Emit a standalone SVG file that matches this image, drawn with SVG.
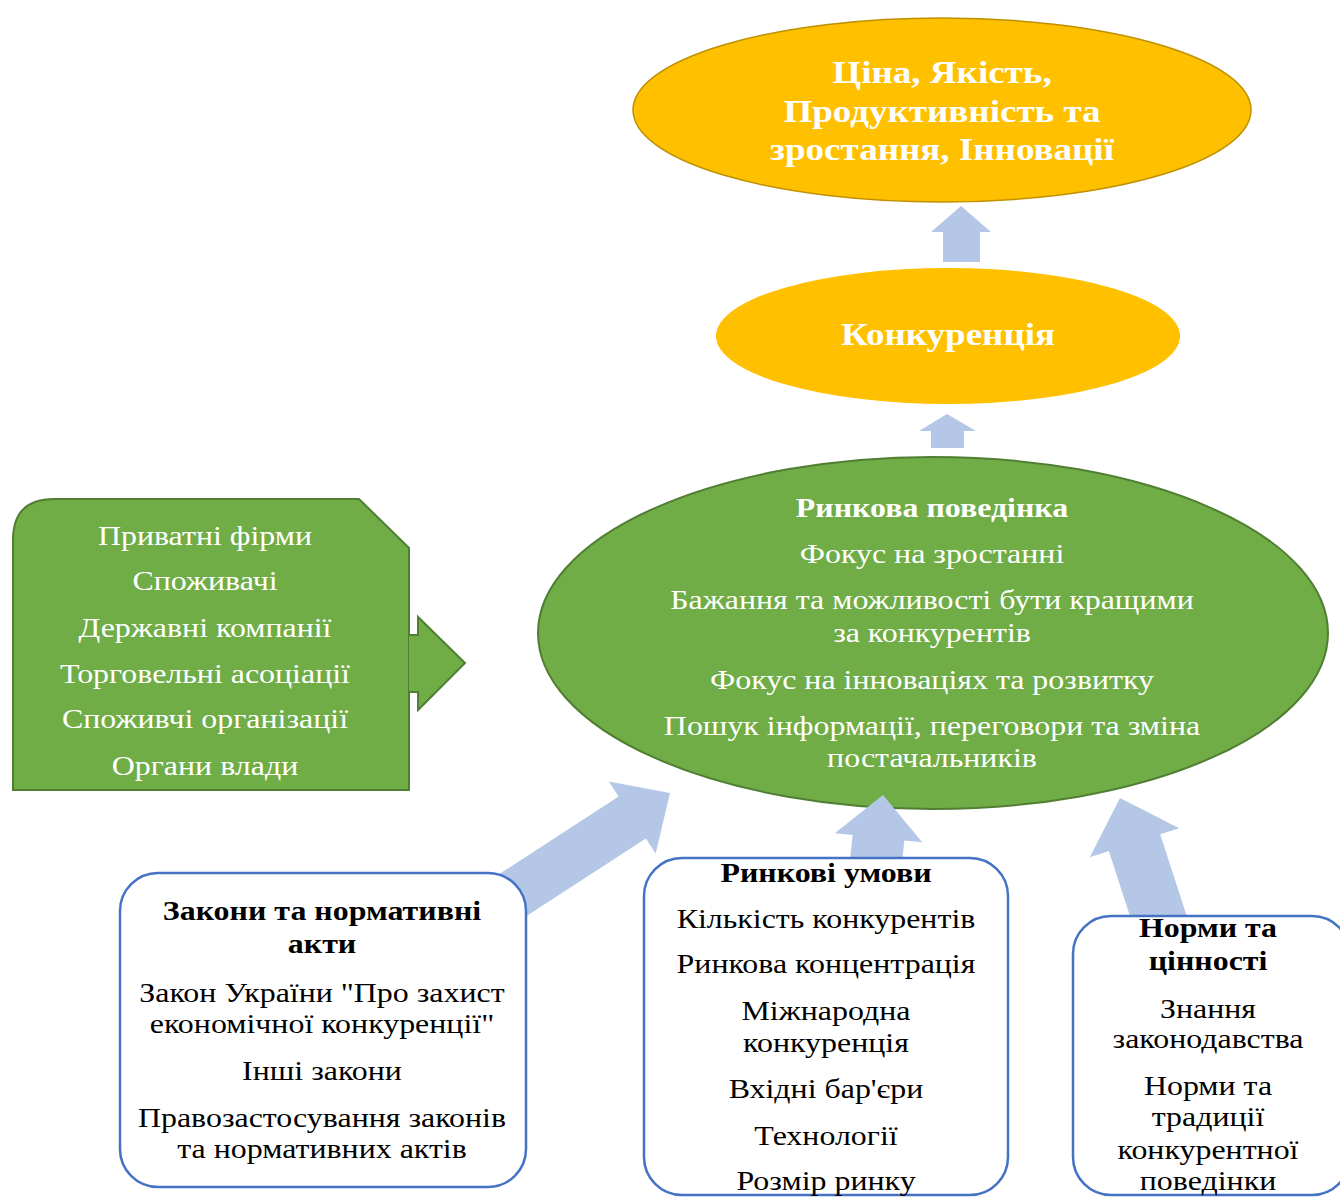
<svg xmlns="http://www.w3.org/2000/svg" width="1340" height="1197" viewBox="0 0 1340 1197">
<style>
text{font-family:"Liberation Serif","Times New Roman",serif;text-anchor:middle}
.w{fill:#ffffff;font-size:28px}
.wb{fill:#ffffff;font-size:32.5px;font-weight:bold}
.wh{fill:#ffffff;font-size:28px;font-weight:bold}
.k{fill:#000000;font-size:28px}
.kb{fill:#000000;font-size:28px;font-weight:bold}
.box{fill:#ffffff;stroke:#4472C4;stroke-width:2.5}
.green{fill:#70AD47;stroke:#507E32;stroke-width:2}
.gold{fill:#FFC000}
.ba{fill:#B4C7E7}
</style>
<rect width="1340" height="1197" fill="#ffffff"/>
<g id="node-result">
<ellipse class="gold" cx="942" cy="110" rx="309" ry="92" stroke="#BF9000" stroke-width="1.5"/>
<g transform="translate(942,0) scale(1.14,1)">
<text class="wb" x="0" y="83">Ціна, Якість,</text>
<text class="wb" x="0" y="122">Продуктивність та</text>
<text class="wb" x="0" y="160">зростання, Інновації</text>
</g>
</g>
<g id="node-competition">
<ellipse class="gold" cx="948" cy="336" rx="232" ry="68"/>
<g transform="translate(948,0) scale(1.14,1)">
<text class="wb" x="0" y="345">Конкуренція</text>
</g>
</g>
<g id="node-behaviour">
<ellipse class="green" cx="933" cy="633" rx="395" ry="176"/>
<g transform="translate(932,0) scale(1.14,1)">
<text class="wh" x="0" y="517">Ринкова поведінка</text>
<text class="w" x="0" y="563">Фокус на зростанні</text>
<text class="w" x="0" y="609">Бажання та можливості бути кращими</text>
<text class="w" x="0" y="642">за конкурентів</text>
<text class="w" x="0" y="689">Фокус на інноваціях та розвитку</text>
<text class="w" x="0" y="735">Пошук інформації, переговори та зміна</text>
<text class="w" x="0" y="767">постачальників</text>
</g>
</g>
<g id="node-actors">
<path class="green" d="M13,790 L13,540 Q13,499 54,499 L359,499 L409,548 L409,790 Z"/>
<path class="green" d="M409,635 L418,635 L418,617 L465,663 L418,710 L418,692 L409,692"/>
<g transform="translate(205,0) scale(1.14,1)">
<text class="w" x="0" y="545">Приватні фірми</text>
<text class="w" x="0" y="590">Споживачі</text>
<text class="w" x="0" y="637">Державні компанії</text>
<text class="w" x="0" y="683">Торговельні асоціації</text>
<text class="w" x="0" y="728">Споживчі організації</text>
<text class="w" x="0" y="775">Органи влади</text>
</g>
</g>
<g id="connectors">
<path class="ba" d="M961,206 L991,232 L980,232 L980,262 L943,262 L943,232 L931,232 Z"/>
<path class="ba" d="M947,414 L976,431 L964,431 L964,448 L931,448 L931,431 L919,431 Z"/>
<path class="ba" transform="translate(670,793) rotate(-33)" d="M0,0 L-45,-43 L-45,-25 L-215,-25 L-215,25 L-45,25 L-45,43 Z"/>
<path class="ba" transform="translate(883,795) rotate(-84)" d="M0,0 L-43,-44 L-43,-26 L-90,-26 L-90,26 L-43,26 L-43,44 Z"/>
<path class="ba" transform="translate(1120,798) rotate(-108)" d="M0,0 L-47,-47 L-47,-27 L-135,-27 L-135,27 L-47,27 L-47,47 Z"/>
</g>
<g id="node-laws">
<rect class="box" x="120" y="873" width="406" height="314" rx="38" ry="38"/>
<g transform="translate(322,0) scale(1.14,1)">
<text class="kb" x="0" y="920">Закони та нормативні</text>
<text class="kb" x="0" y="953">акти</text>
<text class="k" x="0" y="1002">Закон України "Про захист</text>
<text class="k" x="0" y="1033">економічної конкуренції"</text>
<text class="k" x="0" y="1080">Інші закони</text>
<text class="k" x="0" y="1127">Правозастосування законів</text>
<text class="k" x="0" y="1158">та нормативних актів</text>
</g>
</g>
<g id="node-conditions">
<rect class="box" x="644" y="858" width="364" height="337" rx="38" ry="38"/>
<g transform="translate(826,0) scale(1.14,1)">
<text class="kb" x="0" y="882">Ринкові умови</text>
<text class="k" x="0" y="928">Кількість  конкурентів</text>
<text class="k" x="0" y="973">Ринкова концентрація</text>
<text class="k" x="0" y="1020">Міжнародна</text>
<text class="k" x="0" y="1052">конкуренція</text>
<text class="k" x="0" y="1098">Вхідні бар'єри</text>
<text class="k" x="0" y="1145">Технології</text>
<text class="k" x="0" y="1190">Розмір ринку</text>
</g>
</g>
<g id="node-norms">
<rect class="box" x="1073" y="916" width="277" height="279" rx="38" ry="38"/>
<g transform="translate(1208,0) scale(1.14,1)">
<text class="kb" x="0" y="937">Норми та</text>
<text class="kb" x="0" y="970">цінності</text>
<text class="k" x="0" y="1018">Знання</text>
<text class="k" x="0" y="1048">законодавства</text>
<text class="k" x="0" y="1095">Норми та</text>
<text class="k" x="0" y="1126">традиції</text>
<text class="k" x="0" y="1159">конкурентної</text>
<text class="k" x="0" y="1190">поведінки</text>
</g>
</g>
</svg>
